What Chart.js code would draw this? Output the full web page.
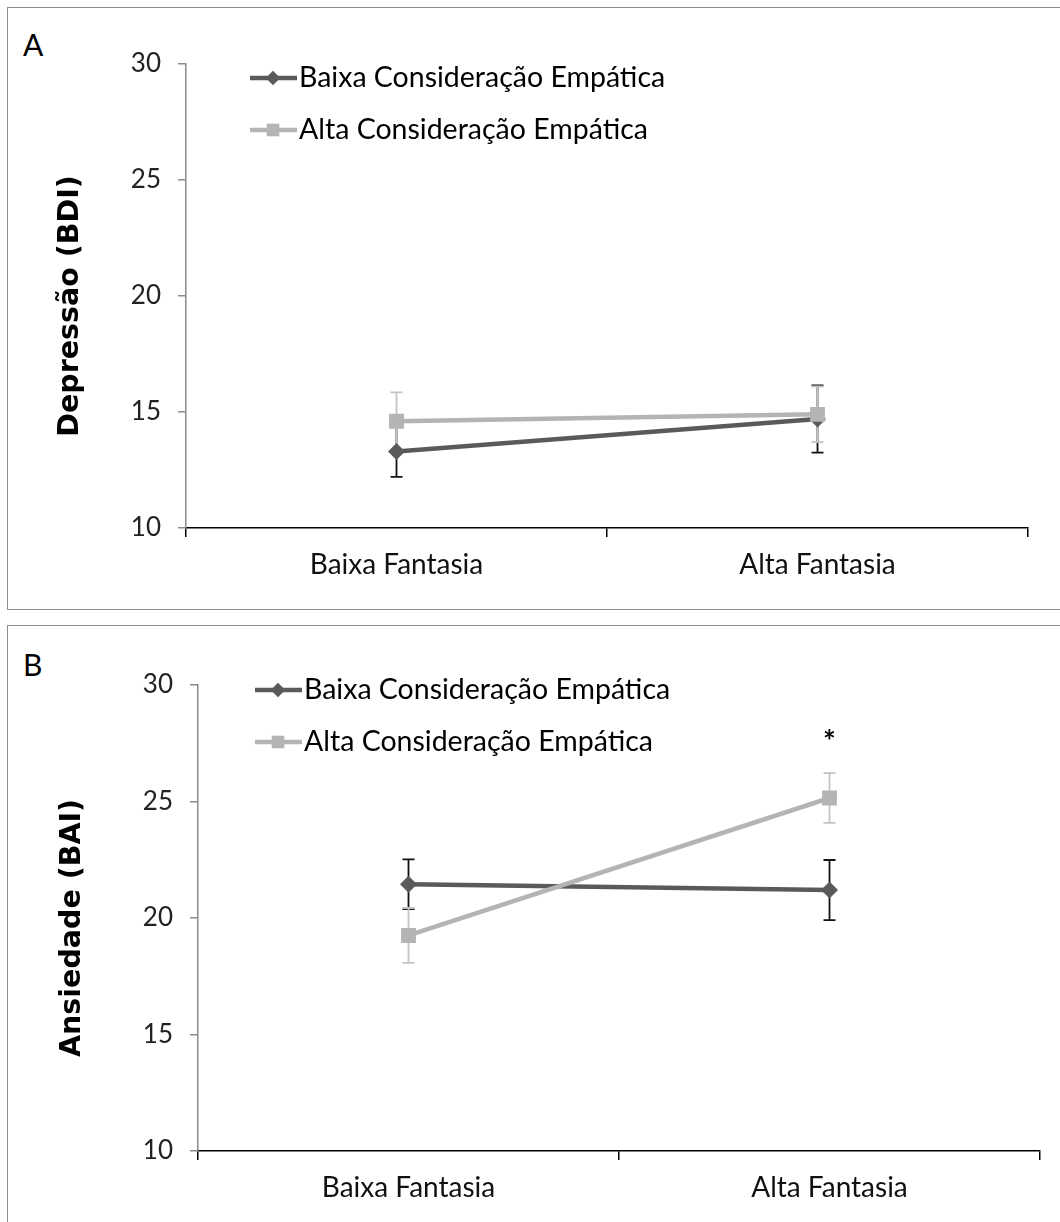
<!DOCTYPE html>
<html>
<head>
<meta charset="utf-8">
<script src="https://cdn.jsdelivr.net/npm/chart.js@4.4.0/dist/chart.umd.min.js"></script>
<style>
  body { margin: 0; background: #fff; width: 1060px; height: 1222px; position: relative; overflow: hidden; }
  .box { position: absolute; left: 7px; width: 1070px; border: 1.5px solid #8c8c8c; box-sizing: border-box; }
  #boxA { top: 7px; height: 603px; }
  #boxB { top: 625px; height: 640px; }
  .tag { position: absolute; font-family: Lato, sans-serif; font-size: 30px; color: #000; }
  canvas { position: absolute; left: 0; }
</style>
</head>
<body>
<div class="box" id="boxA"></div>
<div class="box" id="boxB"></div>
<div class="tag" style="left:23px;top:26px">A</div>
<div class="tag" style="left:23px;top:646px">B</div>
<canvas id="chartA" width="1060" height="615" style="top:0"></canvas>
<canvas id="chartB" width="1060" height="607" style="top:615px"></canvas>
<script>
const categories = ["Baixa Fantasia", "Alta Fantasia"]
const seriesNames = ["Baixa Consideração Empática", "Alta Consideração Empática"]
const yTicks = [10, 15, 20, 25, 30]

// A - depressao (BDI), means and error bars
const depLowEmp = [13.3, 14.7]
const depLowEmpErr = [1.1, 1.45]
const depHighEmp = [14.6, 14.9]
const depHighEmpErr = [1.25, 1.2]

// B - ansiedade (BAI)
const anxLowEmp = [21.45, 21.2]
const anxLowEmpErr = [1.07, 1.29]
const anxHighEmp = [19.25, 25.15]
const anxHighEmpErr = [1.18, 1.07]
const anxStars = [null, 27.55]

const darkColor = "#5a5a5a"
const lightColor = "#b4b4b4"
const textFont = "Lato"

const errorBars = {
    id: "errorBars",
    beforeDatasetsDraw(chart) {
        const ctx = chart.ctx
        const x = chart.scales.x, y = chart.scales.y
        chart.data.datasets.forEach((ds) => {
            ctx.save()
            ctx.strokeStyle = ds.errorColor
            ctx.lineWidth = 1.8
            ds.data.forEach((v, i) => {
                const px = x.getPixelForValue(i)
                const top = y.getPixelForValue(v + ds.errors[i])
                const bot = y.getPixelForValue(v - ds.errors[i])
                ctx.beginPath()
                ctx.moveTo(px, top); ctx.lineTo(px, bot)
                ctx.moveTo(px - 6, top); ctx.lineTo(px + 6, top)
                ctx.moveTo(px - 6, bot); ctx.lineTo(px + 6, bot)
                ctx.stroke()
            })
            ctx.restore()
        })
    }
}

const stars = {
    id: "stars",
    afterDatasetsDraw(chart, args, opts) {
        if (!opts.values) return
        const ctx = chart.ctx
        ctx.save()
        ctx.fillStyle = "#000"
        ctx.font = "bold 30px " + textFont
        ctx.textAlign = "center"
        ctx.textBaseline = "middle"
        opts.values.forEach((v, i) => {
            if (v === null) return
            ctx.fillText("*", chart.scales.x.getPixelForValue(i), chart.scales.y.getPixelForValue(v))
        })
        ctx.restore()
    }
}

const sampleLegend = {
    id: "sampleLegend",
    afterDraw(chart, args, opts) {
        const ctx = chart.ctx
        chart.data.datasets.forEach((ds, i) => {
            const y = opts.y + i * opts.gap
            ctx.save()
            ctx.strokeStyle = ds.borderColor
            ctx.lineWidth = ds.borderWidth
            ctx.beginPath()
            ctx.moveTo(opts.x, y); ctx.lineTo(opts.x + 47, y)
            ctx.stroke()
            ctx.fillStyle = ds.pointBackgroundColor
            ctx.strokeStyle = ds.pointBackgroundColor
            Chart.helpers.drawPoint(ctx, { pointStyle: ds.pointStyle, radius: ds.pointRadius * 0.85, borderWidth: 0, rotation: 0 }, opts.x + 23, y)
            ctx.fillStyle = "#000"
            ctx.font = "28.5px " + textFont
            ctx.textBaseline = "middle"
            ctx.fillText(ds.label, opts.x + 49, y)
            ctx.restore()
        })
    }
}

function makePanel(canvasId, title, low, lowErr, high, highErr, geo) {
    const H = document.getElementById(canvasId).height
    const ctx = document.getElementById(canvasId).getContext("2d")
    return new Chart(ctx, {
        type: "line",
        data: {
            labels: categories,
            datasets: [
                {
                    label: seriesNames[0],
                    data: low,
                    errors: lowErr,
                    errorColor: "#111",
                    borderColor: darkColor,
                    borderWidth: 4.5,
                    pointStyle: "rectRot",
                    pointRadius: 8.5,
                    pointBackgroundColor: darkColor,
                    pointBorderWidth: 0,
                    order: 1,
                },
                {
                    label: seriesNames[1],
                    data: high,
                    errors: highErr,
                    errorColor: "#c4c4c4",
                    borderColor: lightColor,
                    borderWidth: 4.5,
                    pointStyle: "rect",
                    pointRadius: 10.5,
                    pointBackgroundColor: lightColor,
                    pointBorderWidth: 0,
                    order: 0,
                },
            ]
        },
        options: {
            responsive: false,
            animation: false,
            events: [],
            layout: { padding: { left: 0, top: geo.top, right: 1060 - geo.right, bottom: 0 } },
            plugins: {
                legend: { display: false },
                tooltip: { enabled: false },
                stars: { values: geo.stars },
                sampleLegend: { x: geo.legendX, y: geo.legendY, gap: 52 },
            },
            scales: {
                x: {
                    type: "category",
                    offset: true,
                    grid: { offset: true, drawOnChartArea: false, tickLength: 9, color: "#000", lineWidth: 1.5 },
                    border: { color: "#000", width: 1.5 },
                    ticks: { font: { family: textFont, size: 28 }, color: "#111", padding: 11 },
                    afterFit(s) { s.height = H - geo.bottom },
                },
                y: {
                    min: 10,
                    max: 30,
                    afterBuildTicks(s) { s.ticks = yTicks.map(v => ({ value: v })) },
                    grid: { drawOnChartArea: false, tickLength: 8, color: "#8a8a8a", lineWidth: 1.5 },
                    border: { color: "#8a8a8a", width: 1.5 },
                    ticks: { font: { family: textFont, size: 26 }, color: "#222", padding: 17 },
                    title: {
                        display: true,
                        text: title + "\u00a0\u00a0",
                        font: { family: "DejaVu Sans", weight: "bold", size: 28.5 },
                        color: "#000",
                        padding: { top: geo.titlePad, bottom: 0 },
                    },
                    afterFit(s) { s.width = geo.left },
                },
            },
        },
        plugins: [errorBars, stars, sampleLegend],
    })
}

makePanel("chartA", "Depressão (BDI)", depLowEmp, depLowEmpErr, depHighEmp, depHighEmpErr,
    { left: 186, right: 1028, top: 64, bottom: 528, titlePad: 53, legendX: 250, legendY: 78, stars: null })
makePanel("chartB", "Ansiedade (BAI)", anxLowEmp, anxLowEmpErr, anxHighEmp, anxHighEmpErr,
    { left: 198, right: 1040, top: 70, bottom: 536, titlePad: 55, legendX: 255, legendY: 75, stars: anxStars })
</script>
</body>
</html>
